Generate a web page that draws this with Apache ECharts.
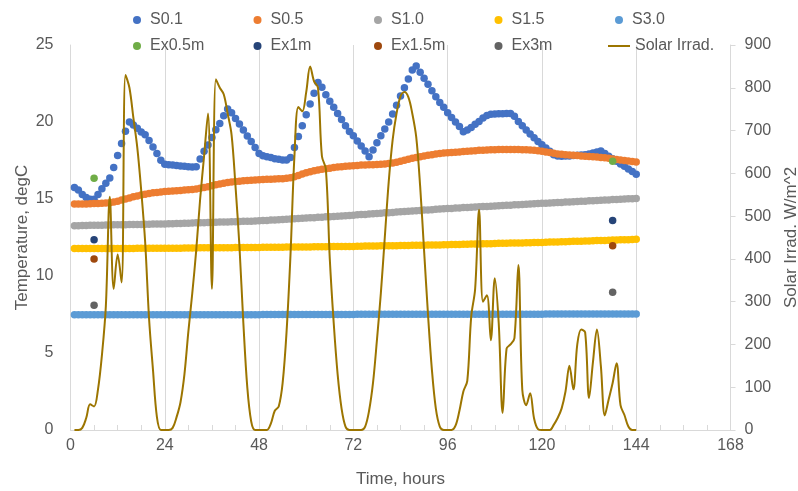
<!DOCTYPE html>
<html>
<head>
<meta charset="utf-8">
<script src="https://cdn.jsdelivr.net/npm/echarts@6/dist/echarts.min.js"></script>
<style>
  html, body { margin: 0; padding: 0; background: #fff; }
  #chart { width: 798px; height: 491px; }
</style>
</head>
<body>
<div id="chart"></div>
<script>
  // hourly readings, hour 1 .. 144
  const s01 = [
    15.75, 15.58, 15.30, 15.09, 14.98, 14.98, 15.30, 15.67, 16.02, 16.36, 17.05, 17.83,
    18.60, 19.40, 20.00, 19.80, 19.60, 19.35, 19.18, 18.80, 18.38, 17.96, 17.51, 17.25,
    17.22, 17.20, 17.18, 17.15, 17.13, 17.10, 17.08, 17.10, 17.60, 18.10, 18.50, 19.00,
    19.50, 19.90, 20.40, 20.84, 20.60, 20.23, 19.87, 19.48, 19.09, 18.74, 18.35, 17.96,
    17.81, 17.75, 17.69, 17.62, 17.58, 17.53, 17.53, 17.69, 18.35, 19.06, 19.76, 20.47,
    21.17, 21.86, 22.56, 22.25, 21.77, 21.34, 20.95, 20.56, 20.17, 19.76, 19.39, 19.10,
    18.77, 18.44, 18.12, 17.75, 18.18, 18.66, 19.10, 19.55, 20.00, 20.52, 21.08, 21.69,
    22.23, 22.80, 23.38, 23.64, 23.23, 22.84, 22.45, 22.03, 21.64, 21.27, 20.95, 20.60,
    20.30, 20.00, 19.70, 19.37, 19.48, 19.65, 19.85, 20.04, 20.26, 20.43, 20.50, 20.52,
    20.54, 20.54, 20.56, 20.56, 20.37, 20.04, 19.76, 19.48, 19.22, 18.98, 18.74, 18.53,
    18.31, 18.10, 17.88, 17.79, 17.78, 17.79, 17.80, 17.82, 17.84, 17.86, 17.88, 17.92,
    17.98, 18.06, 18.12, 17.95, 17.78, 17.62, 17.45, 17.28, 17.12, 16.95, 16.78, 16.60
  ]
  const s05 = [
    14.67, 14.67, 14.68, 14.68, 14.69, 14.70, 14.71, 14.72, 14.74, 14.76, 14.80, 14.86,
    14.93, 15.00, 15.07, 15.14, 15.20, 15.26, 15.31, 15.36, 15.40, 15.43, 15.46, 15.48,
    15.50, 15.52, 15.54, 15.56, 15.58, 15.60, 15.62, 15.65, 15.69, 15.74, 15.80, 15.86,
    15.92, 15.98, 16.03, 16.07, 16.10, 16.13, 16.16, 16.18, 16.20, 16.22, 16.24, 16.25,
    16.27, 16.28, 16.29, 16.30, 16.31, 16.32, 16.34, 16.38, 16.45, 16.53, 16.62, 16.70,
    16.77, 16.83, 16.88, 16.93, 16.97, 17.00, 17.04, 17.07, 17.10, 17.12, 17.14, 17.16,
    17.18, 17.20, 17.21, 17.22, 17.23, 17.24, 17.25, 17.27, 17.30, 17.34, 17.39, 17.45,
    17.51, 17.58, 17.64, 17.70, 17.75, 17.80, 17.84, 17.88, 17.92, 17.95, 17.98, 18.00,
    18.02, 18.04, 18.06, 18.08, 18.10, 18.12, 18.14, 18.16, 18.17, 18.18, 18.19, 18.20,
    18.21, 18.22, 18.22, 18.22, 18.22, 18.21, 18.20, 18.19, 18.18, 18.16, 18.13, 18.10,
    18.06, 18.02, 17.97, 17.92, 17.90, 17.88, 17.86, 17.84, 17.82, 17.80, 17.78, 17.76,
    17.74, 17.72, 17.70, 17.68, 17.64, 17.60, 17.57, 17.53, 17.50, 17.46, 17.43, 17.40
  ]
  const s10 = [
    13.27, 13.27, 13.28, 13.28, 13.29, 13.29, 13.30, 13.30, 13.31, 13.31, 13.32, 13.32,
    13.33, 13.33, 13.34, 13.34, 13.35, 13.35, 13.36, 13.36, 13.37, 13.37, 13.38, 13.38,
    13.39, 13.40, 13.41, 13.41, 13.42, 13.43, 13.44, 13.45, 13.45, 13.46, 13.47, 13.48,
    13.49, 13.50, 13.50, 13.51, 13.52, 13.53, 13.54, 13.55, 13.55, 13.56, 13.57, 13.58,
    13.60, 13.61, 13.63, 13.64, 13.66, 13.67, 13.69, 13.70, 13.72, 13.73, 13.75, 13.76,
    13.78, 13.79, 13.81, 13.82, 13.84, 13.85, 13.87, 13.88, 13.90, 13.91, 13.93, 13.95,
    13.97, 13.99, 14.00, 14.02, 14.04, 14.06, 14.08, 14.10, 14.11, 14.13, 14.15, 14.17,
    14.19, 14.20, 14.22, 14.24, 14.26, 14.28, 14.29, 14.31, 14.33, 14.35, 14.36, 14.38,
    14.39, 14.41, 14.42, 14.44, 14.45, 14.46, 14.48, 14.49, 14.51, 14.52, 14.53, 14.55,
    14.56, 14.58, 14.59, 14.60, 14.62, 14.63, 14.65, 14.66, 14.67, 14.69, 14.70, 14.72,
    14.73, 14.74, 14.76, 14.77, 14.78, 14.80, 14.81, 14.82, 14.84, 14.85, 14.86, 14.88,
    14.89, 14.90, 14.92, 14.93, 14.94, 14.96, 14.97, 14.98, 15.00, 15.01, 15.02, 15.04
  ]
  const s15 = [
    11.78, 11.78, 11.78, 11.78, 11.78, 11.78, 11.79, 11.79, 11.79, 11.79, 11.79, 11.79,
    11.79, 11.79, 11.79, 11.79, 11.80, 11.80, 11.80, 11.80, 11.80, 11.80, 11.80, 11.80,
    11.81, 11.81, 11.81, 11.81, 11.82, 11.82, 11.82, 11.82, 11.83, 11.83, 11.83, 11.83,
    11.83, 11.84, 11.84, 11.84, 11.84, 11.85, 11.85, 11.85, 11.85, 11.85, 11.85, 11.85,
    11.86, 11.86, 11.86, 11.87, 11.87, 11.87, 11.88, 11.88, 11.88, 11.89, 11.89, 11.89,
    11.89, 11.90, 11.90, 11.90, 11.90, 11.91, 11.91, 11.91, 11.91, 11.92, 11.92, 11.92,
    11.93, 11.93, 11.94, 11.94, 11.95, 11.95, 11.96, 11.96, 11.97, 11.97, 11.97, 11.98,
    11.98, 11.98, 11.99, 11.99, 12.00, 12.00, 12.01, 12.01, 12.02, 12.02, 12.03, 12.03,
    12.04, 12.04, 12.05, 12.06, 12.06, 12.07, 12.08, 12.08, 12.09, 12.10, 12.10, 12.11,
    12.12, 12.12, 12.13, 12.14, 12.14, 12.15, 12.15, 12.16, 12.16, 12.17, 12.17, 12.18,
    12.19, 12.20, 12.20, 12.21, 12.22, 12.23, 12.24, 12.25, 12.25, 12.26, 12.27, 12.28,
    12.29, 12.30, 12.30, 12.31, 12.32, 12.33, 12.34, 12.35, 12.35, 12.36, 12.37, 12.38
  ]
  const s30 = [
    7.48, 7.48, 7.48, 7.48, 7.48, 7.48, 7.48, 7.48, 7.48, 7.48, 7.48, 7.48,
    7.48, 7.48, 7.48, 7.48, 7.48, 7.48, 7.48, 7.48, 7.48, 7.48, 7.48, 7.48,
    7.49, 7.49, 7.49, 7.49, 7.49, 7.49, 7.49, 7.49, 7.49, 7.49, 7.49, 7.49,
    7.49, 7.49, 7.49, 7.49, 7.49, 7.49, 7.49, 7.49, 7.49, 7.49, 7.49, 7.49,
    7.50, 7.50, 7.50, 7.50, 7.50, 7.50, 7.50, 7.50, 7.50, 7.50, 7.50, 7.50,
    7.50, 7.50, 7.50, 7.50, 7.50, 7.50, 7.50, 7.50, 7.50, 7.50, 7.50, 7.50,
    7.51, 7.51, 7.51, 7.51, 7.51, 7.51, 7.51, 7.51, 7.51, 7.51, 7.51, 7.51,
    7.51, 7.51, 7.51, 7.51, 7.51, 7.51, 7.51, 7.51, 7.51, 7.51, 7.51, 7.51,
    7.52, 7.52, 7.52, 7.52, 7.52, 7.52, 7.52, 7.52, 7.52, 7.52, 7.52, 7.52,
    7.52, 7.52, 7.52, 7.52, 7.52, 7.52, 7.52, 7.52, 7.52, 7.52, 7.52, 7.52,
    7.53, 7.53, 7.53, 7.53, 7.53, 7.53, 7.53, 7.53, 7.53, 7.53, 7.53, 7.53,
    7.54, 7.54, 7.54, 7.54, 7.54, 7.54, 7.54, 7.54, 7.54, 7.54, 7.54, 7.54
  ]
  const solar = [
    0, 0, 5, 28, 60, 55, 95, 175, 290, 545, 330, 410,
    345, 830, 800, 730, 660, 560, 440, 260, 140, 30, 0, 0,
    0, 5, 30, 65, 130, 230, 320, 420, 540, 640, 740, 330,
    820, 800, 785, 740, 690, 570, 430, 250, 100, 20, 0, 0,
    0, 0, 15, 45, 55, 110, 230, 410, 640, 755, 745, 790,
    850, 815, 800, 640, 610, 400, 250, 130, 50, 8, 0, 0,
    0, 0, 8, 45, 110, 210, 320, 450, 580, 678, 740, 780,
    790, 778, 740, 685, 570, 420, 270, 140, 50, 8, 0, 0,
    0, 10, 45, 90, 115, 265, 330, 515, 300, 315, 210, 355,
    250, 40, 190, 200, 215, 386, 94, 58, 86, 27, 2, 0,
    0, 0, 12, 28, 50, 90, 150, 95, 200, 235, 228, 75,
    160, 235, 150, 34, 72, 110, 156, 58, 35, 8, 0, 0
  ]

  // spot measurements
  const exHours = [6, 138]
  const ex05 = [16.34, 17.45]
  const ex1 = [12.36, 13.6]
  const ex15 = [11.1, 11.97]
  const ex3 = [8.1, 8.94]

  const hours = s01.map((v, i) => i + 1)
  const pair = (xs, ys) => ys.map((y, i) => [xs[i], y])

  const font = '"Liberation Sans", Arial, sans-serif'
  const grey = '#595959'

  const dotSeries = [
    { name: 'S0.1', color: '#4472C4', data: pair(hours, s01) },
    { name: 'S0.5', color: '#ED7D31', data: pair(hours, s05) },
    { name: 'S1.0', color: '#A5A5A5', data: pair(hours, s10) },
    { name: 'S1.5', color: '#FFC000', data: pair(hours, s15) },
    { name: 'S3.0', color: '#5B9BD5', data: pair(hours, s30) },
    { name: 'Ex0.5m', color: '#70AD47', data: pair(exHours, ex05) },
    { name: 'Ex1m', color: '#264478', data: pair(exHours, ex1) },
    { name: 'Ex1.5m', color: '#9E480E', data: pair(exHours, ex15) },
    { name: 'Ex3m', color: '#636363', data: pair(exHours, ex3) }
  ]

  // one legend box per entry, laid out in two rows like the original
  const legends = dotSeries.map((s, i) => ({
    data: [s.name],
    left: 133 + (i % 5) * 120.5,
    top: i < 5 ? 12 : 38,
    padding: 0,
    icon: 'circle',
    itemWidth: 16,
    itemHeight: 8,
    textStyle: { fontSize: 16, color: grey, fontFamily: font }
  }))
  legends.push({
    data: ['Solar Irrad.'],
    left: 608,
    top: 38,
    padding: 0,
    icon: 'rect',
    itemWidth: 22,
    itemHeight: 2,
    textStyle: { fontSize: 16, color: grey, fontFamily: font }
  })

  const series = dotSeries.map(s => ({
    name: s.name,
    type: 'scatter',
    symbol: 'circle',
    symbolSize: 7.5,
    itemStyle: { color: s.color, opacity: 1 },
    data: s.data
  }))
  series.push({
    name: 'Solar Irrad.',
    type: 'line',
    yAxisIndex: 1,
    smooth: 0.35,
    symbol: 'none',
    showSymbol: false,
    lineStyle: { color: '#9C7500', width: 2 },
    itemStyle: { color: '#9C7500' },
    data: pair(hours, solar)
  })

  const chart = echarts.init(document.getElementById('chart'))
  chart.setOption({
    animation: false,
    backgroundColor: '#fff',
    legend: legends,
    grid: { left: 70.5, right: 67.5, top: 45, bottom: 61, outerBoundsMode: 'none' },
    xAxis: {
      type: 'value',
      min: 0,
      max: 168,
      interval: 24,
      name: 'Time, hours',
      nameLocation: 'middle',
      nameGap: 41,
      nameTextStyle: { fontSize: 17, color: grey, fontFamily: font },
      axisLine: { show: true, lineStyle: { color: '#D9D9D9' } },
      axisTick: { show: true, inside: true, length: 5, lineStyle: { color: '#D9D9D9' } },
      minorTick: { show: true, splitNumber: 4, length: 5, lineStyle: { color: '#D9D9D9' } },
      axisLabel: { fontSize: 16, color: grey, fontFamily: font, margin: 8 },
      splitLine: { show: true, lineStyle: { color: '#D9D9D9' } }
    },
    yAxis: [
      {
        type: 'value',
        min: 0,
        max: 25,
        interval: 5,
        position: 'left',
        name: 'Temperature, degC',
        nameLocation: 'middle',
        nameGap: 40,
        nameMoveOverlap: false,
        nameTextStyle: { fontSize: 17, color: grey, fontFamily: font },
        axisLine: { show: true, lineStyle: { color: '#D9D9D9' } },
        axisTick: { show: false },
        axisLabel: { fontSize: 16, color: grey, fontFamily: font, margin: 17 },
        splitLine: { show: false }
      },
      {
        type: 'value',
        min: 0,
        max: 900,
        interval: 100,
        position: 'right',
        name: 'Solar Irrad. W/m^2',
        nameLocation: 'middle',
        nameGap: 52,
        nameTextStyle: { fontSize: 17, color: grey, fontFamily: font },
        axisLine: { show: true, lineStyle: { color: '#D9D9D9' } },
        axisTick: { show: true, length: 5, lineStyle: { color: '#D9D9D9' } },
        axisLabel: { fontSize: 16, color: grey, fontFamily: font, margin: 14 },
        splitLine: { show: false }
      }
    ],
    series: series
  })
</script>
</body>
</html>
